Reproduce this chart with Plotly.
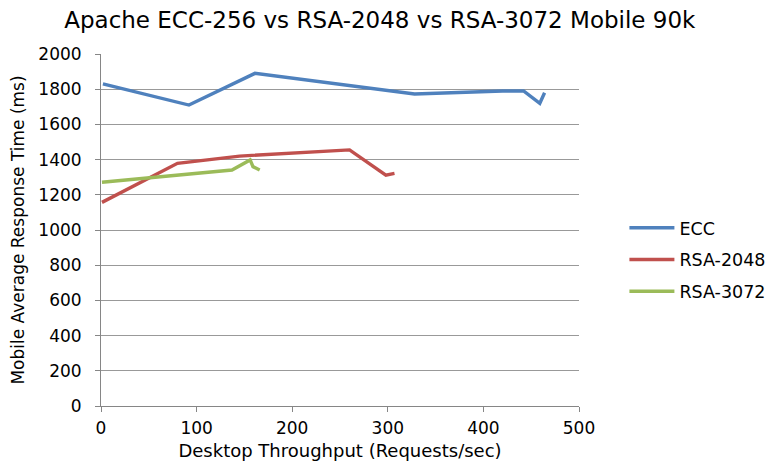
import plotly.graph_objects as go

ecc_x = [2, 92, 161, 328, 420, 442, 459, 464]
ecc_y = [1830, 1710, 1890, 1773, 1790, 1790, 1720, 1780]

rsa2048_x = [1, 80, 145, 260, 298, 307]
rsa2048_y = [1157, 1379, 1420, 1455, 1312, 1322]

rsa3072_x = [1, 95, 137, 156, 159, 166]
rsa3072_y = [1271, 1320, 1341, 1398, 1360, 1341]

font = "'DejaVu Sans', sans-serif"

fig = go.Figure()
fig.add_trace(go.Scatter(x=ecc_x, y=ecc_y, mode="lines", name="ECC", legendgroup="a",
                         line=dict(color="#4F81BD", width=3.4)))
fig.add_trace(go.Scatter(x=rsa2048_x, y=rsa2048_y, mode="lines", name="RSA-2048", legendgroup="b",
                         line=dict(color="#C0504D", width=3.4)))
fig.add_trace(go.Scatter(x=rsa3072_x, y=rsa3072_y, mode="lines", name="RSA-3072", legendgroup="c",
                         line=dict(color="#9BBB59", width=3.4)))

fig.update_layout(
    width=773, height=466,
    margin=dict(l=93, r=202, t=46, b=68, autoexpand=False),
    paper_bgcolor="white", plot_bgcolor="white",
    font=dict(family=font, size=17, color="#000000"),
    title=dict(text="Apache ECC-256 vs RSA-2048 vs RSA-3072 Mobile 90k",
               x=0.481, xanchor="center", y=0.974, yanchor="middle",
               font=dict(size=23, color="#000000"), automargin=False),
    legend=dict(x=1.095, y=0.415, xanchor="left", yanchor="middle",
                font=dict(size=17.5), traceorder="grouped", tracegroupgap=6,
                itemwidth=45),
    showlegend=True,
)
fig.update_xaxes(
    range=[0, 500], dtick=100, showgrid=False,
    showline=True, linecolor="#868686", linewidth=1,
    ticks="outside", ticklen=5, tickcolor="#868686", ticklabelstandoff=2,
    title=dict(text="Desktop Throughput (Requests/sec)", font=dict(size=18), standoff=6),
    zeroline=False, automargin=False,
)
fig.update_yaxes(
    range=[0, 2000], dtick=200, showgrid=True, gridcolor="#999999", gridwidth=1,
    showline=True, linecolor="#868686", linewidth=1,
    ticks="outside", ticklen=5, tickcolor="#868686", ticklabelstandoff=10,
    title=dict(text="Mobile Average Response Time (ms)", font=dict(size=17), standoff=14),
    zeroline=False, automargin=False,
)

fig.write_html("out.html")
